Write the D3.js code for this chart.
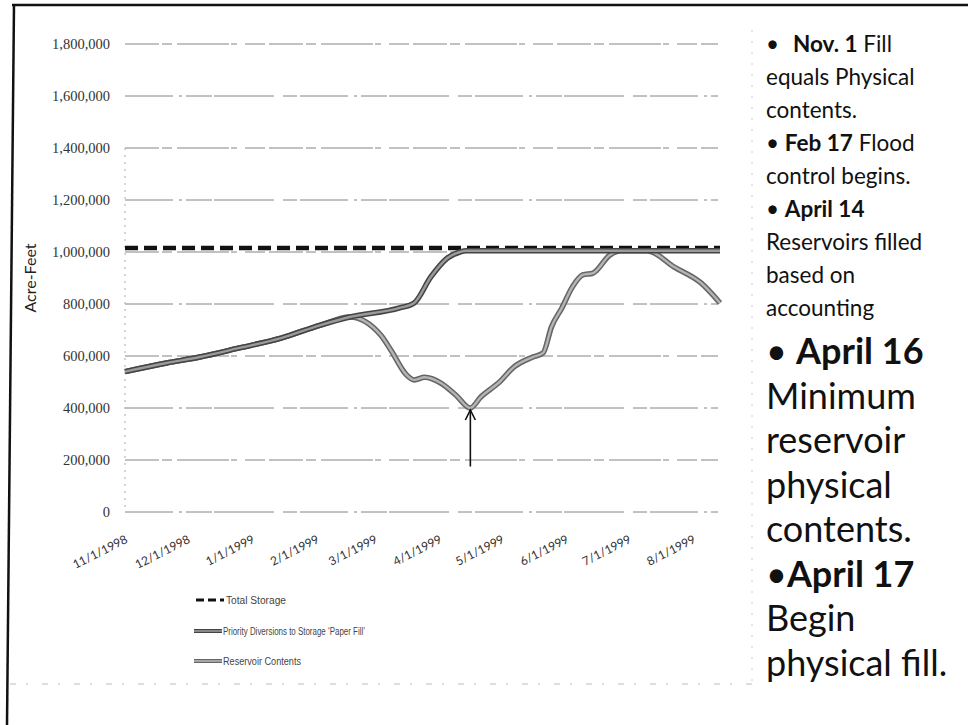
<!DOCTYPE html>
<html><head><meta charset="utf-8">
<script src="https://cdn.jsdelivr.net/npm/d3@7"></script>
<style>
html,body{margin:0;padding:0;background:#fff;}
svg{display:block;}
</style></head>
<body>
<svg id="chart" width="968" height="725"></svg>
<script>
// ---------- data ----------
const monthTicks = ["1998-11-01","1998-12-01","1999-01-01","1999-02-01","1999-03-01","1999-04-01","1999-05-01","1999-06-01","1999-07-01","1999-08-01"];
const monthLabels = ["11/1/1998","12/1/1998","1/1/1999","2/1/1999","3/1/1999","4/1/1999","5/1/1999","6/1/1999","7/1/1999","8/1/1999"];
const yTicks = [0,200000,400000,600000,800000,1000000,1200000,1400000,1600000,1800000];

const totalDates = ["1998-11-01","1999-08-14"];
const totalValues = [1015000,1015000];

const paperDates = ["1998-11-01","1998-11-21","1998-12-07","1998-12-26","1999-01-15","1999-02-03","1999-02-17","1999-03-13","1999-03-20","1999-03-28","1999-04-05","1999-04-11","1999-04-14","1999-08-14"];
const paperValues = [540000,573000,596000,631000,669000,719000,750000,785000,804000,904000,977000,1000000,1005000,1005000];

const resDates = ["1998-11-01","1998-11-21","1998-12-07","1998-12-26","1999-01-15","1999-02-03","1999-02-17","1999-03-04","1999-03-09","1999-03-16","1999-03-20","1999-03-25","1999-04-02","1999-04-09","1999-04-16","1999-04-21","1999-04-30","1999-05-07","1999-05-16","1999-05-21","1999-05-25","1999-05-30","1999-06-04","1999-06-09","1999-06-14","1999-06-22","1999-06-27","1999-07-10","1999-07-23","1999-08-05","1999-08-14"];
const resValues = [540000,573000,596000,631000,669000,719000,750000,680000,620000,530000,508000,518000,495000,450000,400000,442000,500000,558000,596000,612000,712000,785000,865000,912000,919000,988000,1005000,1005000,942000,880000,804000];

const arrowDate = "1999-04-16";
const arrowFrom = 175000, arrowTo = 400000;

const seriesNames = ["Total Storage","Priority Diversions to Storage \u2018Paper Fill\u2019","Reservoir Contents"];

// notes: [bullet, bold, normal]
const notesSmall = [
  ["\u2022", "Nov. 1", " Fill"],
  ["", "", "equals Physical"],
  ["", "", "contents."],
  ["\u2022 ", "Feb 17", " Flood"],
  ["", "", "control begins."],
  ["\u2022 ", "April 14", ""],
  ["", "", "Reservoirs filled"],
  ["", "", "based on"],
  ["", "", "accounting"]
];
const notesLarge = [
  ["\u2022 ", "April 16", ""],
  ["", "", "Minimum"],
  ["", "", "reservoir"],
  ["", "", "physical"],
  ["", "", "contents."],
  ["\u2022", "April 17", ""],
  ["", "", "Begin"],
  ["", "", "physical fill."]
];

// ---------- drawing ----------
const svg = d3.select("#chart");
const parse = d3.timeParse("%Y-%m-%d");

// page border (scanned)
svg.append("line").attr("x1",12).attr("y1",5).attr("x2",968).attr("y2",5)
  .attr("stroke","#111").attr("stroke-width",2.5);
svg.append("line").attr("x1",14).attr("y1",4).attr("x2",7).attr("y2",725)
  .attr("stroke","#111").attr("stroke-width",2.5);
// faint separators
svg.append("line").attr("x1",10).attr("y1",684).attr("x2",760).attr("y2",684)
  .attr("stroke","#bbb").attr("stroke-width",1).attr("stroke-dasharray","6,10,2,14");
svg.append("line").attr("x1",752).attr("y1",30).attr("x2",752).attr("y2",690)
  .attr("stroke","#ccc").attr("stroke-width",1).attr("stroke-dasharray","2,9");

const x = d3.scaleTime().domain([parse("1998-11-01"), parse("1999-08-14")]).range([125, 720]);
const y = d3.scaleLinear().domain([0, 1800000]).range([512, 44]);

// gridlines
const grid = svg.append("g");
grid.selectAll("line").data(yTicks).join("line")
  .attr("x1", 125).attr("x2", 718)
  .attr("y1", d => y(d)).attr("y2", d => y(d))
  .attr("stroke", "#666").attr("stroke-width", 0.8)
  .attr("stroke-dasharray", (d,i) => i % 2 ? "34,3,10,5,52,2,6,8,20,4" : "48,6,3,4,26,2,60,9,14,3");
// faint vertical axis
svg.append("line").attr("x1",125).attr("x2",125).attr("y1",y(1400000)).attr("y2",y(0))
  .attr("stroke","#aaa").attr("stroke-dasharray","2,5");

// y axis labels
const yAxis = d3.axisLeft(y).tickValues(yTicks).tickFormat(d3.format(",")).tickSize(0).tickPadding(15);
const gy = svg.append("g").attr("transform","translate(125,0)").call(yAxis);
gy.select(".domain").remove();
gy.selectAll("text").attr("font-family","'Liberation Serif', serif").attr("font-size",14.5).attr("fill","#333");

// y title
svg.append("text").attr("transform","translate(36,278) rotate(-90)")
  .attr("text-anchor","middle").attr("font-family","Lato, sans-serif").attr("font-size",16).attr("fill","#222")
  .text("Acre-Feet");

// x axis labels
const xAxis = d3.axisBottom(x).tickValues(monthTicks.map(parse))
  .tickFormat((d,i) => monthLabels[i]).tickSize(0).tickPadding(0);
const gx = svg.append("g").attr("transform","translate(0,512)").call(xAxis);
gx.select(".domain").remove();
gx.selectAll("text").attr("font-family","Lato, sans-serif").attr("font-size",12).attr("fill","#333")
  .attr("text-anchor","end").attr("dy",0).attr("transform","translate(3,30) rotate(-27)");

// lines
const line = d3.line().x(d => x(d[0])).y(d => y(d[1])).curve(d3.curveMonotoneX);
const totalData = totalDates.map((d,i) => [parse(d), totalValues[i]]);
const paperData = paperDates.map((d,i) => [parse(d), paperValues[i]]);
const resData = resDates.map((d,i) => [parse(d), resValues[i]]);

function thickLine(data, outer, inner) {
  svg.append("path").datum(data).attr("d", line).attr("fill","none")
    .attr("stroke", outer).attr("stroke-width", 5.5).attr("stroke-linejoin","round");
  svg.append("path").datum(data).attr("d", line).attr("fill","none")
    .attr("stroke", inner).attr("stroke-width", 2.4).attr("stroke-linejoin","round");
}
svg.append("path").datum(totalData).attr("d", line).attr("fill","none")
  .attr("stroke","#111").attr("stroke-width",4.5).attr("stroke-dasharray","13,6");
thickLine(resData, "#666", "#b5b5b5");
thickLine(paperData, "#444", "#9a9a9a");

// arrow
const ax = x(parse(arrowDate));
svg.append("line").attr("x1",ax).attr("x2",ax).attr("y1",y(arrowFrom)).attr("y2",y(arrowTo)+2)
  .attr("stroke","#111").attr("stroke-width",1.6);
svg.append("path").attr("d", `M${ax-5},${y(arrowTo)+12} L${ax},${y(arrowTo)+2} L${ax+5},${y(arrowTo)+12}`)
  .attr("fill","none").attr("stroke","#111").attr("stroke-width",1.6);

// legend
const legY = [600, 631, 661];
const legW = [60, 142, 78];
const leg = svg.append("g");
seriesNames.forEach((name, i) => {
  const ly = legY[i];
  if (i === 0) {
    leg.append("line").attr("x1",196).attr("x2",224).attr("y1",ly).attr("y2",ly)
      .attr("stroke","#111").attr("stroke-width",3).attr("stroke-dasharray","8,4");
  } else {
    leg.append("line").attr("x1",194).attr("x2",222).attr("y1",ly).attr("y2",ly)
      .attr("stroke", i===1 ? "#444" : "#666").attr("stroke-width",4);
    leg.append("line").attr("x1",194).attr("x2",222).attr("y1",ly).attr("y2",ly)
      .attr("stroke", i===1 ? "#9a9a9a" : "#b5b5b5").attr("stroke-width",1.6);
  }
  leg.append("text").attr("x", i===0 ? 226 : 223).attr("y", ly+3.5)
    .attr("font-family","'Liberation Sans', sans-serif").attr("font-size",10)
    .attr("textLength", legW[i]).attr("lengthAdjust","spacingAndGlyphs")
    .attr("fill","#444").text(name);
});

// right notes
const notes = svg.append("g").attr("font-family","Lato, 'Open Sans', sans-serif").attr("fill","#111");
function drawNotes(arr, startY, step, size, boldX) {
  arr.forEach((l, i) => {
    const t = notes.append("text").attr("x", 766).attr("y", startY + i*step).attr("font-size", size);
    if (l[0]) t.append("tspan").text(l[0]);
    if (l[1]) {
      const b = t.append("tspan").attr("font-weight","bold").text(l[1]);
      if (i === 0 && boldX) b.attr("x", boldX);
    }
    if (l[2]) t.append("tspan").text(l[2]);
  });
}
drawNotes(notesSmall, 52, 33, 22.5, 793);
drawNotes(notesLarge, 364, 44.5, 36, null);
</script>
</body></html>
